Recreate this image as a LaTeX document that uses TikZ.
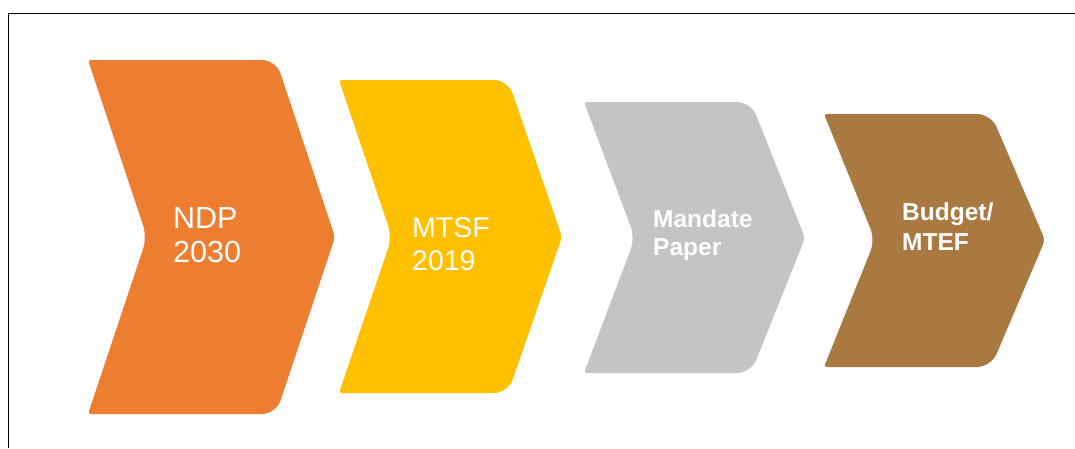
\documentclass[tikz,border=0pt]{standalone}
\usepackage{fontspec}
\setmainfont{Liberation Sans}
\definecolor{cOrange}{HTML}{ED7D31}
\definecolor{cGold}{HTML}{FFC000}
\definecolor{cGray}{HTML}{C4C4C4}
\definecolor{cBrown}{HTML}{AA7942}
\tikzset{
  lblA/.style={anchor=base west, inner sep=0pt, text=white, font=\fontsize{30.5}{34}\selectfont},
  lblB/.style={anchor=base west, inner sep=0pt, text=white, font=\fontsize{28.5}{34}\selectfont},
  lblC/.style={anchor=base west, inner sep=0pt, text=white, font=\bfseries\fontsize{24.5}{30}\selectfont},
  frame/.style={line width=1pt, black}
}
% chevron: #1 colour, #2 left x, #3 top y, #4 right vertex x, #5 tip x, #6 bottom y, #7 notch x, #8 mid y
\newcommand{\mychevron}[8]{%
  \fill[#1] (#2,#8) ++(0,0) -- (#2,#3) [rounded corners=14pt] -- (#4,#3) [rounded corners=6pt] -- (#5,#8) [rounded corners=14pt] -- (#4,#6) [rounded corners=3pt] -- (#2,#6) [rounded corners=10pt] -- (#7,#8) [rounded corners=3pt] -- (#2,#3) -- cycle;%
}
\begin{document}
\begin{tikzpicture}[x=1pt,y=-1pt]
\useasboundingbox (0,0) rectangle (1075,448);
\fill[white] (0,0) rectangle (1075,448);
% frame (top and left edges)
\coordinate (fTR) at (1075,13);
\coordinate (fTL) at (8,13);
\coordinate (fBL) at (8,448);
\draw[frame] (fTR) -- (fTL) -- (fBL);
% chevrons
\fill[cOrange] (88,60) [rounded corners=14pt] -- (276,60) [rounded corners=5pt] -- (335,237) [rounded corners=14pt] -- (276,414) [rounded corners=3pt] -- (88,414) [rounded corners=12pt] -- (147,237) [rounded corners=3pt] -- cycle;
\fill[cGold] (339,80) [rounded corners=14pt] -- (508,80) [rounded corners=5pt] -- (562,237) [rounded corners=14pt] -- (508,393) [rounded corners=3pt] -- (339,393) [rounded corners=12pt] -- (392,237) [rounded corners=3pt] -- cycle;
\fill[cGray] (584,102) [rounded corners=14pt] -- (751,102) [rounded corners=5pt] -- (805,238) [rounded corners=14pt] -- (751,373) [rounded corners=3pt] -- (584,373) [rounded corners=12pt] -- (635,238) [rounded corners=3pt] -- cycle;
\fill[cBrown] (824,114) [rounded corners=14pt] -- (991,114) [rounded corners=5pt] -- (1045,240) [rounded corners=14pt] -- (991,367) [rounded corners=3pt] -- (824,367) [rounded corners=12pt] -- (875,240) [rounded corners=3pt] -- cycle;
% labels
\node[lblA] (ndpA) at (173,228) {NDP};
\node[lblA] (ndpB) at (173,262) {2030};
\node[lblB] (mtsfA) at (412,237) {MTSF};
\node[lblB] (mtsfB) at (412,270) {2019};
\node[lblC] (manA) at (653,227) {Mandate};
\node[lblC] (manB) at (653,255) {Paper};
\node[lblC] (budA) at (902,220) {Budget/};
\node[lblC] (budB) at (902,250) {MTEF};
\end{tikzpicture}
\end{document}
